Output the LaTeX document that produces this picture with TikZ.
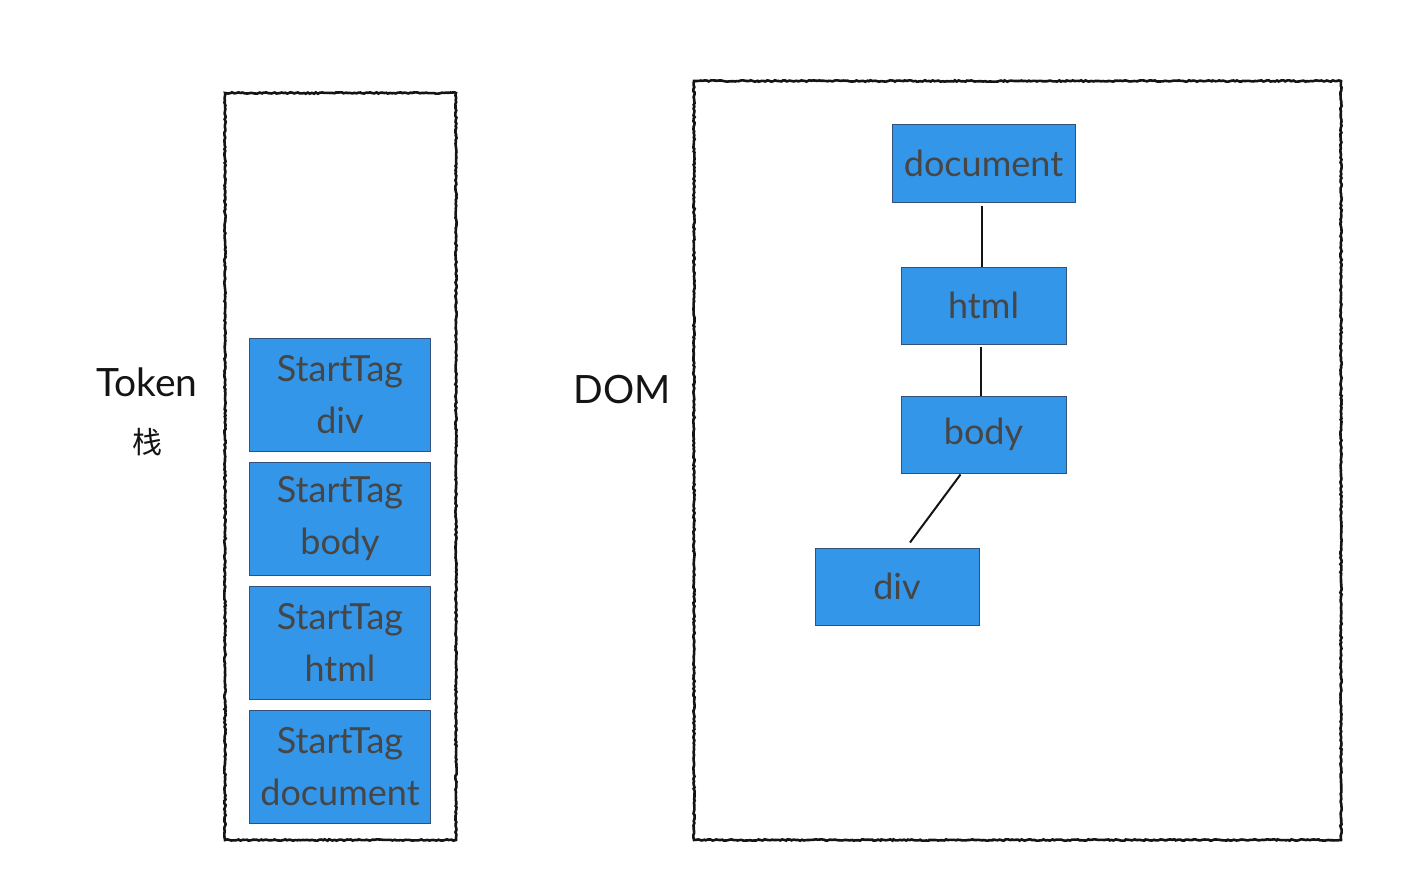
\documentclass[tikz,border=0pt]{standalone}
\usepackage{fontspec}
\setmainfont{Lato}
\newfontfamily\cjk{Noto Sans CJK SC}
\usetikzlibrary{positioning,decorations.pathmorphing}
\definecolor{ink}{RGB}{20,20,20}
\definecolor{txt}{RGB}{70,70,70}
\definecolor{tokfill}{RGB}{52,150,232}
\definecolor{tokline}{RGB}{50,80,120}
\tikzset{
  frame/.style={draw=ink,line width=2.6pt,decorate,
    decoration={random steps,segment length=2pt,amplitude=0.7pt}},
  tok/.style={draw=tokline,fill=tokfill,line width=1pt,text=txt,align=center,
    minimum width=181pt,minimum height=113pt,inner sep=0pt,
    font=\fontsize{36}{52}\selectfont},
  dom/.style={draw=tokline,fill=tokfill,line width=1pt,text=txt,
    minimum height=77pt,inner sep=0pt,font=\fontsize{36}{40}\selectfont},
  lbl/.style={text=ink,font=\fontsize{39}{44}\selectfont},
  edge/.style={draw=ink,line width=2pt},
}
\begin{document}
\begin{tikzpicture}[x=1pt,y=-1pt]
\useasboundingbox[fill=white] (0,0) rectangle (1418,888);
% frames
\draw[frame] (225,93) rectangle (456,840);
\draw[frame] (694,81) rectangle (1341,840);

% labels
\node[lbl] (token) at (147,382) {Token};
\node[lbl,font=\cjk\fontsize{30}{34}\selectfont] (stack) at (147,442) {栈};
\node[lbl] (dom) at (622,390) {DOM};

% token stack
\node[tok] (tdiv) at (340,394.5) {StartTag\\div};
\node[tok,below=10pt of tdiv] (tbody) {StartTag\\body};
\node[tok,below=10pt of tbody] (thtml) {StartTag\\html};
\node[tok,below=10pt of thtml] (tdoc) {StartTag\\document};

% dom tree
\node[dom,minimum width=183pt] (ddoc) at (983.5,163.5) {document};
\node[dom,minimum width=165pt,below=64pt of ddoc] (dhtml) {html};
\node[dom,minimum width=165pt,below=51pt of dhtml] (dbody) {body};
\node[dom,minimum width=164pt] (ddiv) at (897,586.5) {div};

\draw[edge] ([xshift=-2pt,yshift=-3pt]ddoc.south) -- ([xshift=-2pt]dhtml.north);
\draw[edge] ([xshift=-3pt,yshift=-2pt]dhtml.south) -- ([xshift=-3pt]dbody.north);
\draw[edge] ([xshift=-23pt,yshift=-1pt]dbody.south) -- ([xshift=13pt,yshift=5pt]ddiv.north);
\end{tikzpicture}
\end{document}
